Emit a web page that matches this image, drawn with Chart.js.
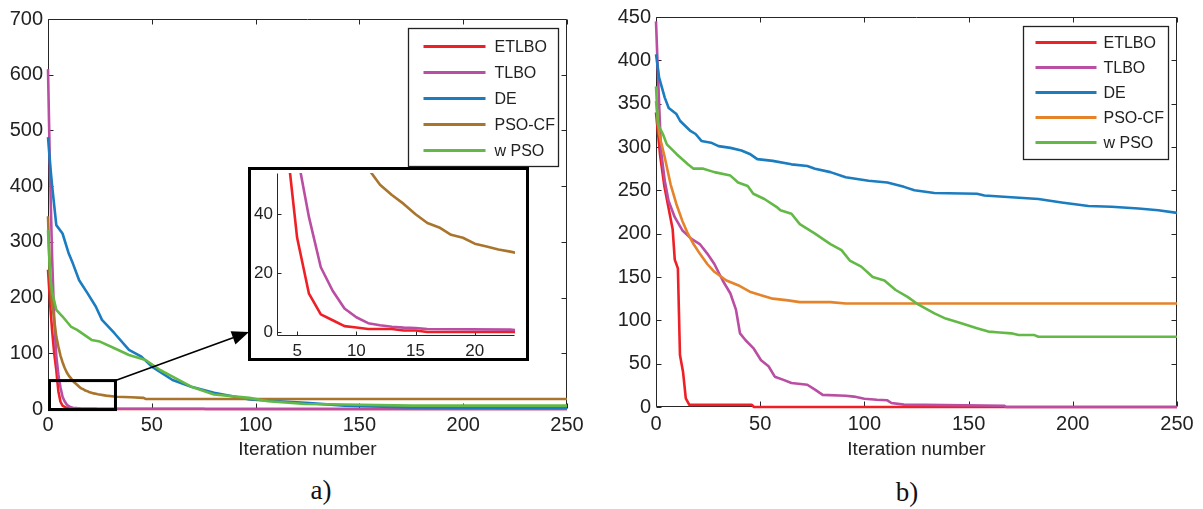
<!DOCTYPE html>
<html>
<head>
<meta charset="utf-8">
<title>Convergence curves</title>
<script src="https://cdn.jsdelivr.net/npm/chart.js@4.4.0/dist/chart.umd.min.js"></script>
<style>
  html, body { margin: 0; padding: 0; background: #fff; }
  #page { position: relative; width: 1203px; height: 509px; overflow: hidden; }
  canvas { position: absolute; }
  #insetFrame { position: absolute; left: 248px; top: 167px; width: 281px; height: 194px;
    box-sizing: border-box; border: 3px solid #000; background: #fff; }
  .caption { position: absolute; font-family: "Liberation Serif", "Times New Roman", serif;
    font-size: 27px; color: #111; transform: translate(-50%, -50%); }
</style>
</head>
<body>
<div id="page">
  <canvas id="chartA" width="600" height="470" style="left:0;top:0"></canvas>
  <canvas id="chartB" width="603" height="470" style="left:600px;top:0"></canvas>
  <div id="insetFrame"><canvas id="chartInset" width="275" height="188" style="left:0;top:0"></canvas></div>
  <div class="caption" style="left:321px;top:490px">a)</div>
  <div class="caption" style="left:907px;top:492px">b)</div>
</div>
<script>
// ---- series labels / colours ----
const seriesNames = ['ETLBO', 'TLBO', 'DE', 'PSO-CF', 'w PSO'];
const colorsA = ['#ee2026', '#b94ea3', '#1b7cc0', '#a9752d', '#63b946'];
const colorsB = ['#ee2026', '#b94ea3', '#1b7cc0', '#e5832b', '#63b946'];

// ---- tick values ----
const iterTicks = [0, 50, 100, 150, 200, 250];
const costTicksA = [0, 100, 200, 300, 400, 500, 600, 700];
const costTicksB = [0, 50, 100, 150, 200, 250, 300, 350, 400, 450];
const insetIterTicks = [5, 10, 15, 20];
const insetCostTicks = [0, 20, 40];

// ---- panel a) best cost per iteration ----
const etlboA_it = [0, 1, 2, 3, 4, 4.4, 5, 6, 7, 8, 9, 10, 11, 13, 14, 15, 16, 250];
const etlboA_val = [250, 190, 140, 100, 70, 54, 32, 13, 6, 4, 2, 1.5, 1, 1, 0.5, 0.5, 0, 0];

const tlboA_it = [0, 1, 2, 3, 4, 5, 5.3, 6, 7, 8, 9, 10, 11, 12, 13, 14, 15, 16, 23, 24, 75, 76, 250];
const tlboA_val = [610, 420, 270, 160, 95, 62, 54, 39, 22, 14, 8, 5, 3, 2.3, 1.8, 1.5, 1.3, 1, 0.8, 0.5, 0.5, 0, 0];

const deA_it = [0, 1, 2, 4, 7, 10, 12, 15, 19, 23, 26, 32, 39, 45, 50, 60, 69, 80, 97, 124, 143, 175, 250];
const deA_val = [488, 440, 400, 330, 315, 279, 261, 231, 208, 184, 160, 136, 106, 94, 76, 52, 40, 29, 17, 11, 6, 3, 2];

const psoA_it = [0, 1, 2, 2.6, 3, 4, 5, 6, 7, 8, 9, 10, 11, 12, 13, 14, 15, 16, 17, 18, 19, 20, 21, 22, 23, 24, 28, 33, 40, 46, 47, 250];
const psoA_val = [346, 230, 185, 172, 160, 130, 112, 96, 84, 74, 66, 60, 55.5, 50, 46.5, 43.5, 40, 37, 35.5, 33, 32, 30, 29, 28, 27.3, 26.5, 24, 22, 21, 20, 18, 18];

const wpsoA_it = [0, 1, 2, 4, 7, 11, 14, 21, 25, 32, 39, 47, 54, 60, 69, 80, 97, 106, 124, 143, 175, 250];
const wpsoA_val = [321, 240, 210, 178, 166, 148, 142, 124, 121, 109, 97, 88, 70, 58, 40, 26, 20, 14, 9, 8, 6, 6];

// ---- panel b) best cost per iteration ----
const etlboB_it = [0, 2, 4, 6, 8, 9, 10.5, 11.5, 13, 14.3, 16, 46, 47, 250];
const etlboB_val = [340, 290, 255, 230, 205, 170, 160, 60, 40, 10, 2.5, 2.5, 0, 0];

const tlboB_it = [0, 1, 2.4, 4.2, 6, 9, 12.6, 17, 21, 24.6, 28, 32, 35.7, 38.4, 40.3, 43, 46.7, 50.4, 54, 57, 61.5, 65, 72.6, 76.3, 80, 91, 95, 100, 106, 111, 113, 119, 167, 168, 250];
const tlboB_val = [445, 380, 296, 261, 238, 219, 204, 194, 188, 177, 165, 146, 131, 112, 85, 77, 68, 54, 47, 35, 31, 27.6, 25.7, 20, 14, 13, 12, 9.6, 8.4, 7.7, 4.6, 2.7, 1.5, 0, 0];

const deB_it = [0, 1.5, 4.2, 6.1, 9.8, 11.6, 16.3, 19, 21.8, 26.4, 30, 35.7, 41, 45, 48.6, 56, 65, 72.6, 76.3, 83.7, 91, 102, 111, 119, 124, 133.6, 154, 157.6, 170.5, 183.5, 194.6, 207.5, 218.6, 231.5, 241, 250];
const deB_val = [407, 380, 357, 345, 338, 330, 319, 315, 307, 305, 301, 299, 296, 292, 286, 284, 280, 278, 275, 271, 265, 261, 259, 254, 250, 247, 246, 244, 242, 240, 236, 232, 231, 229, 227, 224];

const psoB_it = [0, 1.5, 4.2, 7, 9.8, 12.6, 15.3, 18, 21, 24.6, 28, 33.8, 39.4, 45, 50.4, 56, 63.4, 69, 83.7, 91, 250];
const psoB_val = [353, 315, 288, 257, 234, 215, 200, 188, 177, 165, 156, 146, 140.5, 133, 129, 125, 123, 121, 121, 119.5, 119.5];

const wpsoB_it = [0, 0.9, 3.3, 5.2, 9.8, 15.3, 18, 22.7, 28, 35.7, 39.4, 44, 46.7, 52, 57.8, 59.7, 65, 69, 76.3, 83.7, 89, 93, 98.5, 104, 109.6, 115, 120.7, 126, 133.6, 139, 146.5, 154, 159.5, 165, 170.5, 174, 181.6, 183.5, 250];
const wpsoB_val = [370, 326, 315, 303, 292, 280, 275, 275, 271, 267, 259, 255, 246, 240, 231, 227, 223, 211, 200, 188, 181, 169, 162, 150, 146, 135, 127, 118, 108, 102, 96.5, 91, 87, 86, 85, 83, 83, 81, 81];

// zoomed window marked on panel a)
const zoomIter = [0, 32.5];
const zoomCost = [-1, 51];

const FONT = '"Liberation Sans", Arial, Helvetica, sans-serif';
const INK = '#222';

function pts(xs, ys) { return xs.map((x, i) => ({ x, y: ys[i] })); }

function makeSets(series, colors) {
  return series.map((s, i) => ({
    label: seriesNames[i],
    data: pts(s[0], s[1]),
    borderColor: colors[i],
    backgroundColor: colors[i],
    borderWidth: 2.6,
    pointRadius: 0,
    tension: 0,
    borderJoinStyle: 'round',
    clip: { left: 2, right: 2, top: 2, bottom: 3 },
    order: series.length - i   // later series drawn on top
  }));
}

// matlab-like box with inward ticks
const axesBox = {
  id: 'axesBox',
  beforeDatasetsDraw(chart, args, o) {
    const { ctx, chartArea: a, scales: { x, y } } = chart;
    const t = o.tick || 5;
    ctx.save();
    ctx.strokeStyle = o.color || '#262626';
    ctx.lineWidth = 1;
    ctx.beginPath();
    const L = Math.round(a.left) + 0.5, R = Math.round(a.right) - 0.5;
    const T = Math.round(a.top) + 0.5, B = Math.round(a.bottom) - 0.5;
    if (o.full) {
      ctx.rect(L, T, R - L, B - T);
    } else {
      ctx.moveTo(L, T); ctx.lineTo(L, B); ctx.lineTo(R, B);
    }
    x.ticks.forEach(tk => {
      const p = Math.round(x.getPixelForValue(tk.value)) + 0.5;
      ctx.moveTo(p, B); ctx.lineTo(p, B - t);
      if (o.full) { ctx.moveTo(p, T); ctx.lineTo(p, T + t); }
    });
    y.ticks.forEach(tk => {
      const p = Math.round(y.getPixelForValue(tk.value)) + 0.5;
      ctx.moveTo(L, p); ctx.lineTo(L + t, p);
      if (o.full) { ctx.moveTo(R, p); ctx.lineTo(R - t, p); }
    });
    ctx.stroke();
    ctx.restore();
  }
};

// boxed legend with long line samples
const boxLegend = {
  id: 'boxLegend',
  afterDraw(chart, args, o) {
    if (!o.box) return;
    const { ctx } = chart;
    const b = o.box;
    ctx.save();
    ctx.fillStyle = '#fff';
    ctx.fillRect(b.x, b.y, b.w, b.h);
    ctx.strokeStyle = '#222';
    ctx.lineWidth = 1.3;
    ctx.strokeRect(b.x, b.y, b.w, b.h);
    ctx.font = o.fontSize + 'px ' + FONT;
    ctx.textBaseline = 'middle';
    ctx.fillStyle = INK;
    chart.data.datasets.forEach((ds, i) => {
      const yy = b.y + o.firstRow + i * o.rowH;
      ctx.strokeStyle = ds.borderColor;
      ctx.lineWidth = 3;
      ctx.beginPath();
      ctx.moveTo(b.x + o.lineFrom, yy);
      ctx.lineTo(b.x + o.lineTo, yy);
      ctx.stroke();
      ctx.fillText(ds.label, b.x + o.textAt, yy + 1);
    });
    ctx.restore();
  }
};

// zoom window rectangle and arrow towards the inset
const zoomMarker = {
  id: 'zoomMarker',
  afterDatasetsDraw(chart, args, o) {
    if (!o.on) return;
    const { ctx, scales: { x, y } } = chart;
    const x0 = x.getPixelForValue(zoomIter[0]), x1 = x.getPixelForValue(zoomIter[1]);
    const y0 = y.getPixelForValue(zoomCost[1]), y1 = y.getPixelForValue(zoomCost[0]);
    ctx.save();
    ctx.strokeStyle = '#000';
    ctx.lineWidth = 3;
    ctx.strokeRect(x0 + 1.5, y0, x1 - x0 - 1.5, y1 - y0);
    // arrow
    const sx = x1, sy = y0, tx = o.tip.x, ty = o.tip.y;
    const ang = Math.atan2(ty - sy, tx - sx);
    const len = 17, half = 7;
    const bx = tx - len * Math.cos(ang), by = ty - len * Math.sin(ang);
    ctx.lineWidth = 1.6;
    ctx.beginPath();
    ctx.moveTo(sx, sy); ctx.lineTo(bx, by);
    ctx.stroke();
    ctx.fillStyle = '#000';
    ctx.beginPath();
    ctx.moveTo(tx, ty);
    ctx.lineTo(bx + half * Math.sin(ang), by - half * Math.cos(ang));
    ctx.lineTo(bx - half * Math.sin(ang), by + half * Math.cos(ang));
    ctx.closePath();
    ctx.fill();
    ctx.restore();
  }
};

function axis(min, max, ticks, o) {
  return {
    type: 'linear', min, max,
    afterBuildTicks: s => { s.ticks = ticks.map(v => ({ value: v })); },
    afterFit: s => {
      if (o.width != null) s.width = o.width;
      if (o.height != null) s.height = o.height;
      s.paddingTop = s.paddingBottom = s.paddingLeft = s.paddingRight = 0;
    },
    grid: { display: false, drawTicks: false },
    border: { display: false },
    ticks: { font: { family: FONT, size: o.fontSize }, color: INK, padding: o.pad, maxRotation: 0, autoSkip: false },
    title: o.title ? { display: true, text: o.title, font: { family: FONT, size: 19 }, color: INK,
      padding: { top: 0, bottom: o.titlePad } } : { display: false }
  };
}

function buildChart(id, datasets, cfg) {
  return new Chart(document.getElementById(id), {
    type: 'line',
    data: { datasets },
    options: {
      responsive: false,
      animation: false,
      events: [],
      layout: { padding: cfg.padding },
      plugins: {
        legend: { display: false },
        tooltip: { enabled: false },
        axesBox: cfg.box,
        boxLegend: cfg.legend || {},
        zoomMarker: cfg.zoom || {}
      },
      scales: { x: cfg.x, y: cfg.y }
    },
    plugins: [axesBox, boxLegend, zoomMarker]
  });
}

const seriesA = [[etlboA_it, etlboA_val], [tlboA_it, tlboA_val], [deA_it, deA_val], [psoA_it, psoA_val], [wpsoA_it, wpsoA_val]];
const seriesB = [[etlboB_it, etlboB_val], [tlboB_it, tlboB_val], [deB_it, deB_val], [psoB_it, psoB_val], [wpsoB_it, wpsoB_val]];

buildChart('chartA', makeSets(seriesA, colorsA), {
  padding: { top: 19, right: 33, left: 0, bottom: 0 },
  box: { full: true, tick: 5 },
  x: axis(0, 250, iterTicks, { height: 61, fontSize: 20, pad: 4, title: 'Iteration number', titlePad: 9 }),
  y: axis(0, 700, costTicksA, { width: 48, fontSize: 20, pad: 5 }),
  legend: { box: { x: 408.5, y: 28.5, w: 150, h: 138 }, firstRow: 18, rowH: 26, lineFrom: 15, lineTo: 77, textAt: 86, fontSize: 16 },
  zoom: { on: true, tip: { x: 249, y: 332 } }
});

buildChart('chartB', makeSets(seriesB, colorsB), {
  padding: { top: 17, right: 26, left: 0, bottom: 0 },
  box: { full: true, tick: 5 },
  x: axis(0, 250, iterTicks, { height: 63, fontSize: 20, pad: 5, title: 'Iteration number', titlePad: 9 }),
  y: axis(0, 450, costTicksB, { width: 56, fontSize: 20, pad: 5 }),
  legend: { box: { x: 423.5, y: 26.5, w: 145, h: 133 }, firstRow: 16, rowH: 25, lineFrom: 12, lineTo: 73, textAt: 80, fontSize: 16 }
});

// inset: same panel a) series seen through a narrow window
buildChart('chartInset', makeSets(seriesA, colorsA).map(d => Object.assign(d, { clip: { left: 0, right: 0, top: 0, bottom: 2 } })), {
  padding: { top: 3, right: 11, left: 0, bottom: 0 },
  box: { full: false, tick: 4 },
  x: axis(3.3, 23.4, insetIterTicks, { height: 22, fontSize: 17, pad: 5 }),
  y: axis(-1.36, 54, insetCostTicks, { width: 26, fontSize: 17, pad: 4 })
});
</script>
</body>
</html>
